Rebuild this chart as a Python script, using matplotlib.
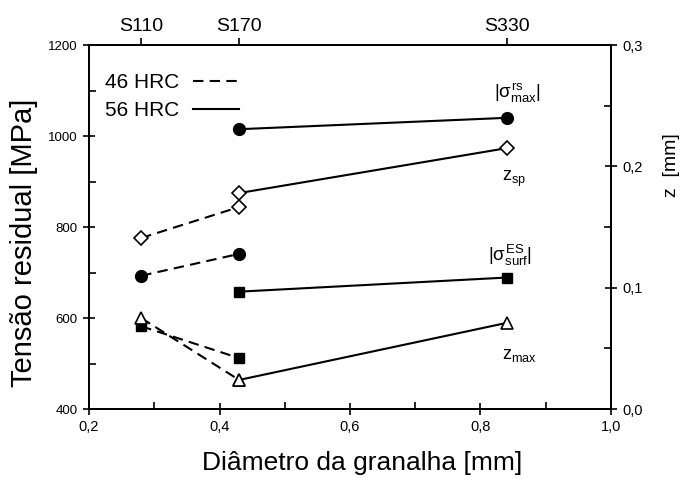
"""Residual stress and depth vs shot diameter."""

import matplotlib
matplotlib.use("Agg")
import matplotlib.pyplot as plt
from matplotlib.ticker import FuncFormatter, MultipleLocator
from matplotlib.lines import Line2D

plt.rcParams['font.family'] = ['Liberation Sans', 'DejaVu Sans']
plt.rcParams['mathtext.fontset'] = 'custom'
plt.rcParams['mathtext.rm'] = 'Liberation Sans'
plt.rcParams['mathtext.it'] = 'Liberation Sans'

# shot diameters [mm]
d_46 = [0.28, 0.43]
d_56 = [0.43, 0.84]
shot_names = ["S110", "S170", "S330"]
shot_diam = [0.28, 0.43, 0.84]

# stresses [MPa]
s_rs_46 = [693, 741]
s_rs_56 = [1015, 1040]
s_surf_46 = [582, 512]
s_surf_56 = [658, 689]

# depths [mm]
z_sp_46 = [0.141, 0.1665]
z_sp_56 = [0.178, 0.215]
z_max_46 = [0.075, 0.024]
z_max_56 = [0.024, 0.071]

fig = plt.figure(figsize=(6.81, 4.79), dpi=100)
ax = fig.add_axes([0.1307, 0.146, 0.7665, 0.76])
ax2 = ax.twinx()
ax_top = ax.twiny()

lw = 1.5
dash = (0, (5, 3))
mk = dict(color='black', lw=lw)

ax.plot(d_46, s_rs_46, marker='o', ms=8.5, ls=dash, **mk)
ax.plot(d_56, s_rs_56, marker='o', ms=8.5, ls='-', **mk)
ax.plot(d_46, s_surf_46, marker='s', ms=6.5, ls=dash, **mk)
ax.plot(d_56, s_surf_56, marker='s', ms=6.5, ls='-', **mk)

ax2.plot(d_46, z_sp_46, marker='D', ms=7, mfc='white', mew=1.2, ls=dash, **mk)
ax2.plot(d_56, z_sp_56, marker='D', ms=7, mfc='white', mew=1.2, ls='-', **mk)
ax2.plot(d_46, z_max_46, marker='^', ms=9, mfc='white', mew=1.2, ls=dash, **mk)
ax2.plot(d_56, z_max_56, marker='^', ms=9, mfc='white', mew=1.2, ls='-', **mk)

comma = FuncFormatter(lambda v, p: f"{v:.1f}".replace('.', ','))

ax.set_xlim(0.2, 1.0)
ax.set_ylim(400, 1200)
ax2.set_ylim(0, 0.3)
ax_top.set_xlim(0.2, 1.0)

ax.xaxis.set_major_locator(MultipleLocator(0.2))
ax.xaxis.set_minor_locator(MultipleLocator(0.1))
ax.xaxis.set_major_formatter(comma)
ax.yaxis.set_major_locator(MultipleLocator(200))
ax.yaxis.set_minor_locator(MultipleLocator(100))
ax2.yaxis.set_major_locator(MultipleLocator(0.1))
ax2.yaxis.set_minor_locator(MultipleLocator(0.05))
ax2.yaxis.set_major_formatter(comma)

ax.tick_params(which='major', direction='inout', length=9, width=1.2)
ax.tick_params(which='minor', direction='in', length=5, width=1.2)
ax.tick_params(axis='x', labelsize=10.5)
ax.tick_params(axis='y', labelsize=9.5)
ax.tick_params(axis='y', which='both', right=False)
ax.tick_params(axis='x', which='both', top=False)
ax2.tick_params(which='major', direction='inout', length=9, width=1.2, labelsize=10.5)
ax2.tick_params(which='minor', direction='in', length=5, width=1.2)

ax_top.set_xticks(shot_diam)
ax_top.set_xticklabels(shot_names)
ax_top.tick_params(direction='out', length=5, width=1.2, labelsize=14, pad=2)

for a in (ax, ax2, ax_top):
    for sp in a.spines.values():
        sp.set_linewidth(1.2)

# axis titles
fig.text(362 / 681, 1 - 463 / 479, "Diâmetro da granalha [mm]", fontsize=19,
         ha='center', va='center')
fig.text(24 / 681, 1 - 243 / 479, "Tensão residual [MPa]", fontsize=21,
         ha='center', va='center', rotation=90)
fig.text(671 / 681, 1 - 165 / 479, "z  [mm]", fontsize=14,
         ha='center', va='center', rotation=90)

# curve labels
ax.text(0.856, 1095, r"$|\sigma^{\rm rs}_{\rm max}|$", fontsize=13.5, ha='center', va='center')
ax.text(0.851, 905, r"$\rm z_{sp}$", fontsize=13, ha='center', va='center')
ax.text(0.845, 738, r"$|\sigma^{\rm ES}_{\rm surf}|$", fontsize=13.5, ha='center', va='center')
ax.text(0.86, 518, r"$\rm z_{max}$", fontsize=13, ha='center', va='center')

# legend
ax.legend(
    handles=[Line2D([], [], color='black', lw=lw, ls=dash),
             Line2D([], [], color='black', lw=lw, ls='-')],
    labels=["46 HRC", "56 HRC"],
    loc='upper left', bbox_to_anchor=(-0.005, 0.975), frameon=False,
    fontsize=15, markerfirst=False, handlelength=2.2, handletextpad=0.65,
    labelspacing=0.45
)

fig.savefig("out.png", dpi=100)
